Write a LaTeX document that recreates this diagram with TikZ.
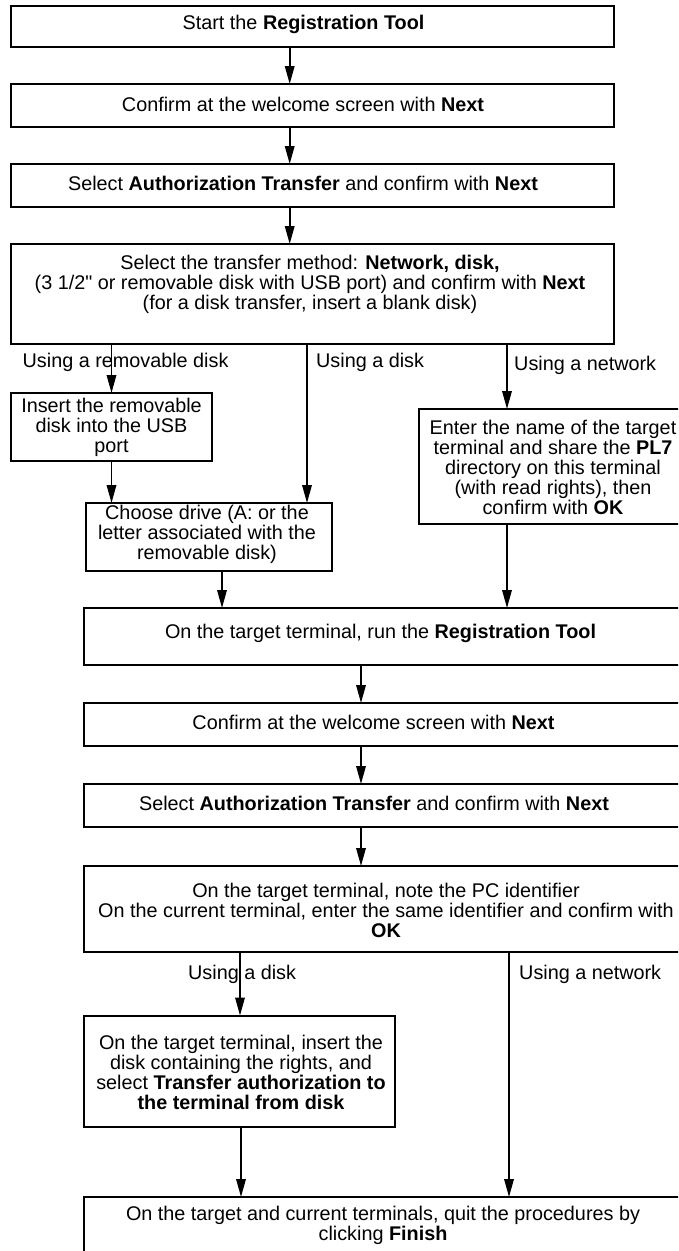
\documentclass[tikz,border=0pt]{standalone}
\usepackage{fontspec}
\setmainfont{Liberation Sans}
\usetikzlibrary{arrows.meta}
\begin{document}
\begin{tikzpicture}[x=1pt,y=-1pt,
  box/.style={draw, line width=2pt, rectangle, inner sep=0pt, outer sep=0pt},
  txt/.style={font=\fontsize{19.8pt}{20pt}\selectfont, align=center, inner sep=0pt},
  lbl/.style={font=\fontsize{19.8pt}{20pt}\selectfont, anchor=west, inner sep=0pt},
  arr/.style={line width=1.8pt, -{Triangle[length=18pt,width=9.5pt]}}]
\useasboundingbox (0,0) rectangle (678,1251);
\clip (0,0) rectangle (678,1251);

% boxes
\node[box, minimum width=603pt, minimum height=41pt] (b1) at (312.5,26.5) {};
\node[box, minimum width=603pt, minimum height=43pt] (b2) at (312.5,105.5) {};
\node[box, minimum width=603pt, minimum height=43pt] (b3) at (312.5,185.5) {};
\node[box, minimum width=603pt, minimum height=100pt] (b4) at (312.5,294) {};
\node[box, minimum width=201pt, minimum height=68pt] (b5) at (111.5,427) {};
\node[box, minimum width=246pt, minimum height=68pt] (b6) at (209,537) {};
\node[box, minimum width=271pt, minimum height=115pt] (b7) at (554.5,466.5) {};
\node[box, minimum width=606.5pt, minimum height=57pt] (b8) at (386.75,636.5) {};
\node[box, minimum width=606.5pt, minimum height=43pt] (b9) at (386.75,724.5) {};
\node[box, minimum width=606.5pt, minimum height=43pt] (b10) at (386.75,805.5) {};
\node[box, minimum width=606.5pt, minimum height=86pt] (b11) at (386.75,909) {};
\node[box, minimum width=311.5pt, minimum height=111.5pt] (b12) at (239.25,1071.25) {};
\node[box, minimum width=606.5pt, minimum height=78pt] (b13) at (386.75,1236) {};

% texts
\node[txt] (t1) at (303.5,24) {Start the \textbf{Registration Tool}};
\node[txt] (t2) at (303,104) {Confirm at the welcome screen with \textbf{Next}};
\node[txt] (t3) at (303,183) {Select \textbf{Authorization Transfer} and confirm with \textbf{Next}};
\node[txt] (t4) at (310,284) {Select the transfer method: \textbf{Network, disk,}\\(3 1/2\textquotedbl{} or removable disk with USB port) and confirm with \textbf{Next}\\(for a disk transfer, insert a blank disk)};
\node[txt] (t5) at (111.5,427.5) {Insert the removable\\disk into the USB\\port};
\node[txt] (t6) at (207,534) {Choose drive (A: or the\\letter associated with the\\removable disk)};
\node[txt] (t7) at (553,467) {Enter the name of the target\\terminal and share the \textbf{PL7}\\directory on this terminal\\(with read rights), then\\confirm with \textbf{OK}};
\node[txt] (t8) at (380.5,633) {On the target terminal, run the \textbf{Registration Tool}};
\node[txt] (t9) at (373.5,722) {Confirm at the welcome screen with \textbf{Next}};
\node[txt] (t10) at (374,803) {Select \textbf{Authorization Transfer} and confirm with \textbf{Next}};
\node[txt] (t11) at (386,910) {On the target terminal, note the PC identifier\\On the current terminal, enter the same identifier and confirm with\\\textbf{OK}};
\node[txt] (t12) at (241,1072) {On the target terminal, insert the\\disk containing the rights, and\\select \textbf{Transfer authorization to}\\\textbf{the terminal from disk}};
\node[txt] (t13) at (383,1225) {On the target and current terminals, quit the procedures by\\clicking \textbf{Finish}};

% labels
\node[lbl] (l1) at (22.5,362) {Using a removable disk};
\node[lbl] (l2) at (316,362) {Using a disk};
\node[lbl] (l3) at (514,365) {Using a network};
\node[lbl] (l4) at (188,974) {Using a disk};
\node[lbl] (l5) at (519,974) {Using a network};

% connector columns
\coordinate (xa) at (289.7,0);
\coordinate (xb) at (111.5,0);
\coordinate (xc) at (307,0);
\coordinate (xd) at (507,0);
\coordinate (xe) at (222,0);
\coordinate (xf) at (361,0);
\coordinate (xg) at (240,0);
\coordinate (xh) at (509,0);
\coordinate (xi) at (241,0);

\draw[arr] (b1.south -| xa) -- (b2.north -| xa);
\draw[arr] (b2.south -| xa) -- (b3.north -| xa);
\draw[arr] (b3.south -| xa) -- (b4.north -| xa);
\draw[arr] (b4.south -| xb) -- (b5.north -| xb);
\draw[arr] (b4.south -| xc) -- (b6.north -| xc);
\draw[arr] (b4.south -| xd) -- (b7.north -| xd);
\draw[arr] (b5.south -| xb) -- (b6.north -| xb);
\draw[arr] (b6.south -| xe) -- (b8.north -| xe);
\draw[arr] (b7.south -| xd) -- (b8.north -| xd);
\draw[arr] (b8.south -| xf) -- (b9.north -| xf);
\draw[arr] (b9.south -| xf) -- (b10.north -| xf);
\draw[arr] (b10.south -| xf) -- (b11.north -| xf);
\draw[arr] (b11.south -| xg) -- (b12.north -| xg);
\draw[arr] (b11.south -| xh) -- (b13.north -| xh);
\draw[arr] (b12.south -| xi) -- (b13.north -| xi);
\end{tikzpicture}
\end{document}
